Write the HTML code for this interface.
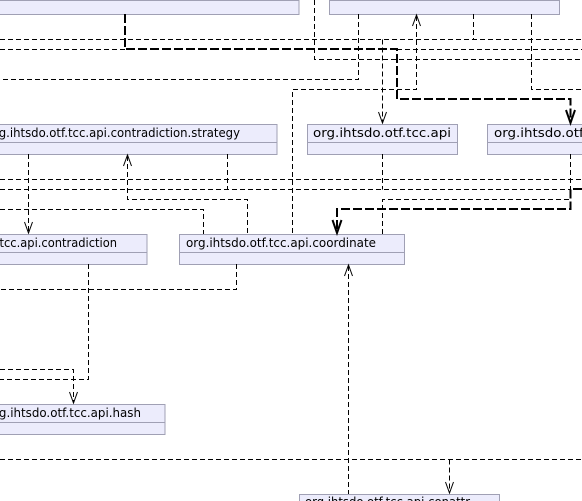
<!DOCTYPE html>
<html><head><style>
html,body{margin:0;padding:0;background:#fff;overflow:hidden;width:582px;height:501px;}
svg{display:block;}
text{font-family:"DejaVu Sans","Liberation Sans",sans-serif;font-size:12px;fill:#000;}
.b{fill:#ECECFC;stroke:#A0A0B4;stroke-width:1;}
.l{fill:none;stroke:#000;stroke-width:1;stroke-dasharray:5,3;}
.h{fill:none;stroke:#000;stroke-width:2;stroke-dasharray:9,3;}
.a{fill:none;stroke:#000;stroke-width:1;}
.ah{fill:none;stroke:#000;stroke-width:2;}
</style></head><body>
<svg width="582" height="501" viewBox="0 0 582 501">
<rect class="b" x="-2" y="-17.5" width="301" height="32"/><line class="b" x1="-2" y1="0.5" x2="299" y2="0.5"/>
<rect class="b" x="329.5" y="-17.5" width="230" height="32"/><line class="b" x1="329.5" y1="0.5" x2="559.5" y2="0.5"/>
<rect class="b" x="-2" y="124.5" width="279" height="30"/><line class="b" x1="-2" y1="142.5" x2="277" y2="142.5"/>
<text x="-13" y="137" textLength="253" lengthAdjust="spacingAndGlyphs">org.ihtsdo.otf.tcc.api.contradiction.strategy</text>
<rect class="b" x="307.5" y="124.5" width="150" height="30"/><line class="b" x1="307.5" y1="142.5" x2="457.5" y2="142.5"/>
<text x="313" y="137" textLength="138" lengthAdjust="spacingAndGlyphs">org.ihtsdo.otf.tcc.api</text>
<rect class="b" x="487.5" y="124.5" width="120" height="30"/><line class="b" x1="487.5" y1="142.5" x2="607" y2="142.5"/>
<text x="494" y="137" textLength="150" lengthAdjust="spacingAndGlyphs">org.ihtsdo.otf.tcc.api.x</text>
<rect class="b" x="-2" y="234.5" width="149" height="30"/><line class="b" x1="-2" y1="252.5" x2="147" y2="252.5"/>
<text x="-80" y="247" textLength="197" lengthAdjust="spacingAndGlyphs">org.ihtsdo.otf.tcc.api.contradiction</text>
<rect class="b" x="179.5" y="234.5" width="225" height="30"/><line class="b" x1="179.5" y1="252.5" x2="404.5" y2="252.5"/>
<text x="186" y="247" textLength="190" lengthAdjust="spacingAndGlyphs">org.ihtsdo.otf.tcc.api.coordinate</text>
<rect class="b" x="-2" y="404.5" width="167" height="30"/><line class="b" x1="-2" y1="422.5" x2="165" y2="422.5"/>
<text x="-13" y="417" textLength="154" lengthAdjust="spacingAndGlyphs">org.ihtsdo.otf.tcc.api.hash</text>
<rect class="b" x="299.5" y="494.5" width="200" height="30"/>
<text x="305" y="506" textLength="165" lengthAdjust="spacingAndGlyphs">org.ihtsdo.otf.tcc.api.conattr</text>

<path class="l" d="M0 39.5H582"/>
<path class="l" d="M473.5 14V39.5"/>
<path class="l" d="M0 49.5H125 M397 49.5H582"/>
<path class="l" d="M314.5 0V59.5H582"/>
<path class="l" d="M358.5 14V79.5H0"/>
<path class="l" d="M416.5 16V89.5H292.5V234"/>
<path class="a" d="M412.5 26L416.5 15L420.5 26"/>
<path class="l" d="M382.5 39.5V123"/>
<path class="a" d="M378.5 112L382.5 123L386.5 112"/>
<path class="l" d="M531.5 14V89.5H582"/>
<path class="l" d="M28.5 154V233"/>
<path class="a" d="M24.5 222L28.5 233L32.5 222"/>
<path class="l" d="M0 209.5H203.5V234"/>
<path class="l" d="M127.5 156V199.5H247.5V234"/>
<path class="a" d="M123.5 166L127.5 155L131.5 166"/>
<path class="l" d="M0 179.5H582"/>
<path class="l" d="M0 189.5H570"/>
<path class="l" d="M227.5 154V189.5"/>
<path class="l" d="M382.5 154V189.5"/>
<path class="l" d="M570.5 154V189.5"/>
<path class="l" d="M382.5 234V199.5H570.5"/>
<path class="l" d="M88.5 264V379.5H0"/>
<path class="l" d="M236.5 264V289.5H0"/>
<path class="l" d="M0 369.5H73.5V403"/>
<path class="a" d="M69.5 392L73.5 403L77.5 392"/>
<path class="l" d="M348.5 266V494"/>
<path class="a" d="M344.5 276L348.5 265L352.5 276"/>
<path class="l" d="M0 459.5H582"/>
<path class="l" d="M449.5 459.5V493"/>
<path class="a" d="M445.5 482L449.5 493L453.5 482"/>

<path class="h" d="M125 14V49H397V99H570.5V121"/>
<path class="ah" d="M566 110L570.5 123L575 110"/>
<path class="h" d="M582 189H570.5V209H337V231"/>
<path class="ah" d="M332.5 220L337 233L341.5 220"/>
</svg>
</body></html>
